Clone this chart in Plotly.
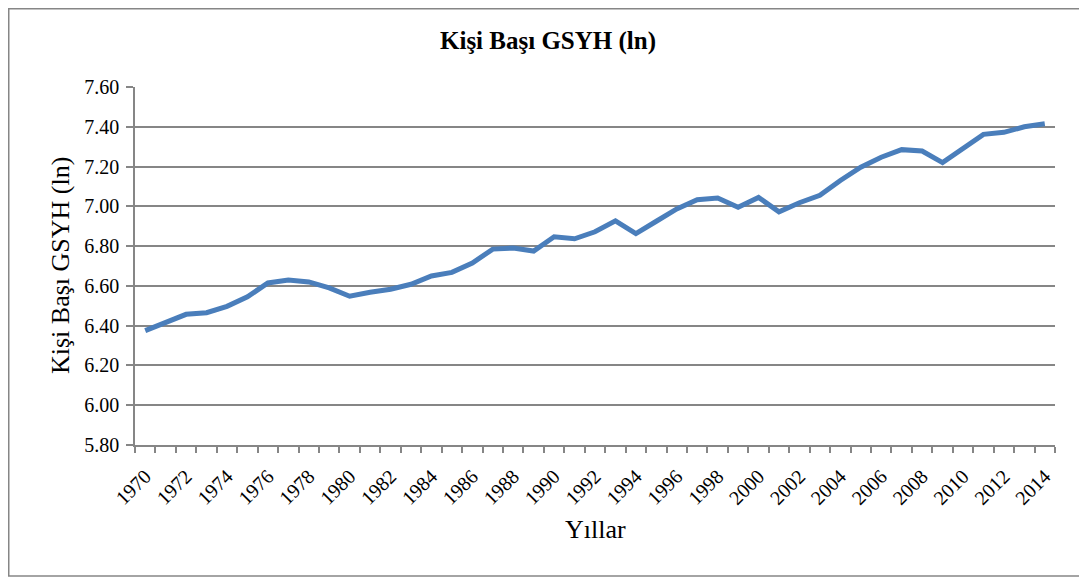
import plotly.graph_objects as go

years = list(range(1970, 2015))
gsyh_ln = [6.375, 6.415, 6.457, 6.465, 6.497, 6.545, 6.615, 6.630, 6.620, 6.590,
           6.548, 6.568, 6.583, 6.608, 6.650, 6.668, 6.715, 6.785, 6.790, 6.775,
           6.847, 6.837, 6.872, 6.927, 6.863, 6.925, 6.987, 7.033, 7.042, 6.995,
           7.045, 6.972, 7.018, 7.055, 7.130, 7.197, 7.247, 7.285, 7.278, 7.220,
           7.288, 7.362, 7.372, 7.400, 7.415]
label_years = list(range(1970, 2015, 2))
y_ticks = [5.8 + 0.2 * i for i in range(10)]

title_text = "Kişi Başı GSYH (ln)"
y_title = "Kişi Başı GSYH (ln)"
x_title = "Yıllar"

FONT = "Liberation Serif, Times New Roman, serif"
GRID = "#868686"

# page has an 8px body margin; figure coordinates are offset accordingly
OFF = 8
W, H = 1087 - OFF, 577 - OFF
L, T = 135 - OFF, 87 - OFF
PW, PH = 920, 358
R = W - L - PW
B = H - T - PH


def px_x(sx):
    return (sx - OFF - L) / PW


def px_y(sy):
    return (T + PH - (sy - OFF)) / PH


fig = go.Figure()
fig.add_trace(go.Scatter(
    x=years, y=gsyh_ln, mode="lines",
    line=dict(color="#4a7ebb", width=5),
    showlegend=False, hoverinfo="x+y",
))

fig.update_layout(
    width=W, height=H,
    margin=dict(l=L, r=R, t=T, b=B, pad=0),
    paper_bgcolor="white", plot_bgcolor="white",
    font=dict(family=FONT, color="black", size=20),
    title=dict(text="<b>" + title_text + "</b>", x=(548 - OFF) / W, xref="container",
               xanchor="center", y=1 - (40 - OFF) / H, yref="container", yanchor="middle",
               font=dict(family=FONT, size=25, color="black")),
    xaxis=dict(
        range=[1969.5, 2014.5], tickmode="array", tickvals=label_years,
        ticktext=[str(y) for y in label_years], tickangle=-45,
        ticks="", showgrid=False, showline=True, linecolor=GRID, linewidth=1.5,
        tickfont=dict(family=FONT, size=20, color="black"),
        ticklabelstandoff=10,
        minor=dict(tick0=1969.5, dtick=1, ticks="outside", ticklen=6,
                   tickcolor=GRID, tickwidth=1.5, showgrid=False),
        zeroline=False, fixedrange=True,
    ),
    yaxis=dict(
        range=[5.8, 7.6], tickmode="array", tickvals=y_ticks,
        ticktext=["%.2f" % v for v in y_ticks],
        ticks="outside", ticklen=7, tickcolor=GRID, tickwidth=1.5,
        showgrid=True, gridcolor=GRID, gridwidth=1.5,
        showline=True, linecolor=GRID, linewidth=1.5,
        tickfont=dict(family=FONT, size=20, color="black"),
        ticklabelstandoff=3,
        zeroline=False, fixedrange=True,
    ),
    annotations=[
        dict(text=y_title, xref="paper", yref="paper", x=px_x(60), y=0.5,
             xanchor="center", yanchor="middle", textangle=-90, showarrow=False,
             font=dict(family=FONT, size=26, color="black")),
        dict(text=x_title, xref="paper", yref="paper", x=0.5, y=px_y(529),
             xanchor="center", yanchor="middle", showarrow=False,
             font=dict(family=FONT, size=26, color="black")),
    ],
    shapes=[
        dict(type="rect", xref="paper", yref="paper",
             x0=px_x(OFF + 0.75), x1=px_x(1100),
             y0=px_y(576), y1=px_y(OFF + 0.75),
             line=dict(color=GRID, width=1.5), fillcolor="rgba(0,0,0,0)",
             layer="below"),
    ],
)

fig.write_html("out.html")
